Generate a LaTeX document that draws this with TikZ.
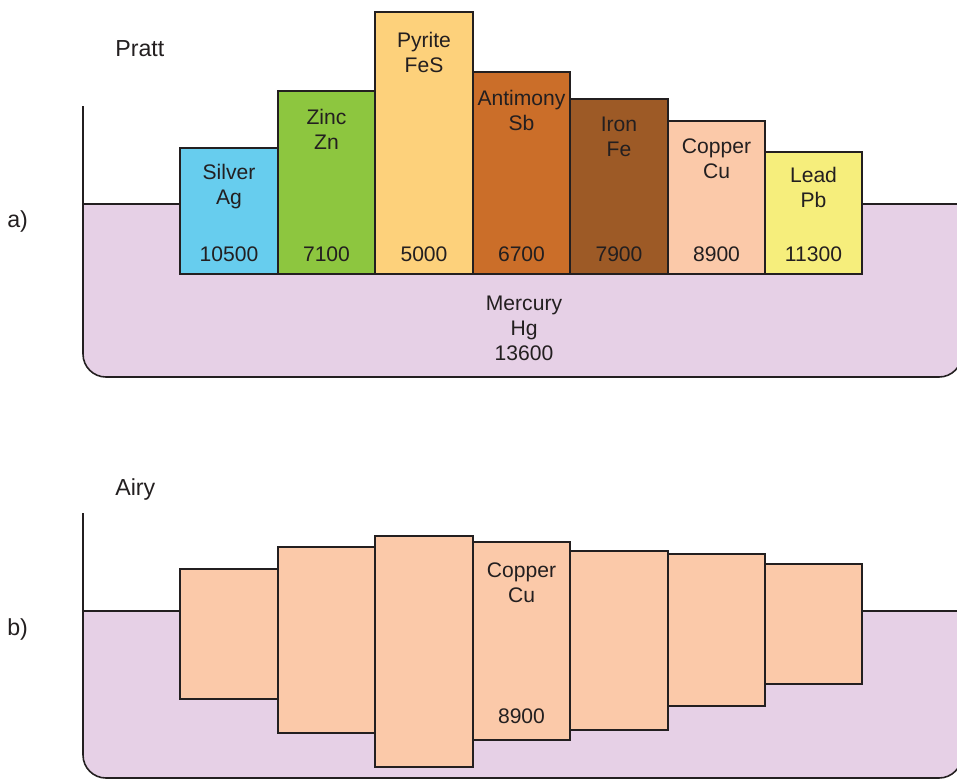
\documentclass[tikz,border=0pt]{standalone}
\usepackage{fontspec}
\setmainfont{Liberation Sans}

\definecolor{ink}{HTML}{231F20}
\definecolor{hg}{HTML}{E6D0E6}
\definecolor{ag}{HTML}{67CDEE}
\definecolor{zn}{HTML}{8DC63F}
\definecolor{fes}{HTML}{FDD17B}
\definecolor{sb}{HTML}{CB6E29}
\definecolor{fe}{HTML}{9D5A26}
\definecolor{cu}{HTML}{FBC9A9}
\definecolor{pb}{HTML}{F6EE7C}

\tikzset{
  wall/.style={draw=ink, line width=.9pt},
  block/.style={draw=ink, line width=.8pt},
  lbl/.style={align=center, inner sep=0pt, text=ink, font=\fontsize{12}{14.2}\selectfont},
  tag/.style={inner sep=0pt, text=ink, font=\fontsize{13.2}{15}\selectfont},
}

\begin{document}
\begin{tikzpicture}[x=0.02cm, y=-0.02cm]
  \useasboundingbox (0, 0) rectangle (957, 779) ;
  %--- a) Pratt : bac de mercure
    \fill[hg] (83, 204) [rounded corners=.46cm] -- (83, 377) -- (962, 377) [sharp corners] -- (962, 204) -- cycle ;
    \draw[wall] (83, 106) [rounded corners=.46cm] -- (83, 377) -- (962, 377) [sharp corners] -- (962, 106) ;
    \draw[wall] (83, 204) -- (180, 204) ;
    \draw[wall] (862, 204) -- (962, 204) ;
  %--- a) blocs, meme base
    \draw[block, fill=ag] (180, 148) rectangle (278, 274) ;
    \draw[block, fill=zn] (278, 91) rectangle (375, 274) ;
    \draw[block, fill=fes] (375, 12) rectangle (473, 274) ;
    \draw[block, fill=sb] (473, 72) rectangle (570, 274) ;
    \draw[block, fill=fe] (570, 99) rectangle (668, 274) ;
    \draw[block, fill=cu] (668, 121) rectangle (765, 274) ;
    \draw[block, fill=pb] (765, 152) rectangle (862, 274) ;
  %--- a) textes
    \node[lbl, anchor=north] (agname) at (229, 164) {Silver\\Ag} ;
    \node[lbl, anchor=north] (znname) at (326.5, 109) {Zinc\\Zn} ;
    \node[lbl, anchor=north] (fesname) at (424, 32) {Pyrite\\FeS} ;
    \node[lbl, anchor=north] (sbname) at (521.5, 90) {Antimony\\Sb} ;
    \node[lbl, anchor=north] (fename) at (619, 117) {Iron\\Fe} ;
    \node[lbl, anchor=north] (cuname) at (716.5, 138) {Copper\\Cu} ;
    \node[lbl, anchor=north] (pbname) at (813.5, 167) {Lead\\Pb} ;
    \node[lbl] (agrho) at (229, 254) {10500} ;
    \node[lbl] (znrho) at (326.5, 254) {7100} ;
    \node[lbl] (fesrho) at (424, 254) {5000} ;
    \node[lbl] (sbrho) at (521.5, 254) {6700} ;
    \node[lbl] (ferho) at (619, 254) {7900} ;
    \node[lbl] (curho) at (716.5, 254) {8900} ;
    \node[lbl] (pbrho) at (813.5, 254) {11300} ;
    \node[lbl, anchor=north] (hgname) at (524, 296) {Mercury\\Hg\\13600} ;
    \node[tag, anchor=base west] (pratt) at (115, 56) {Pratt} ;
    \node[tag, anchor=base west] (parta) at (7, 227) {a)} ;
  %--- b) Airy : bac de mercure
    \fill[hg] (83, 611) [rounded corners=.46cm] -- (83, 778) -- (962, 778) [sharp corners] -- (962, 611) -- cycle ;
    \draw[wall] (83, 513) [rounded corners=.46cm] -- (83, 778) -- (962, 778) [sharp corners] -- (962, 513) ;
    \draw[wall] (83, 611) -- (180, 611) ;
    \draw[wall] (862, 611) -- (962, 611) ;
  %--- b) blocs de cuivre, racines differentes
    \draw[block, fill=cu] (180, 569) rectangle (278, 699) ;
    \draw[block, fill=cu] (278, 547) rectangle (375, 733) ;
    \draw[block, fill=cu] (375, 536) rectangle (473, 767) ;
    \draw[block, fill=cu] (473, 542) rectangle (570, 740) ;
    \draw[block, fill=cu] (570, 551) rectangle (668, 730) ;
    \draw[block, fill=cu] (668, 554) rectangle (765, 706) ;
    \draw[block, fill=cu] (765, 564) rectangle (862, 684) ;
  %--- b) textes
    \node[lbl, anchor=north] (cuname2) at (521.5, 562) {Copper\\Cu} ;
    \node[lbl] (curho2) at (521.5, 716) {8900} ;
    \node[tag, anchor=base west] (airy) at (115, 495) {Airy} ;
    \node[tag, anchor=base west] (partb) at (7, 635) {b)} ;
\end{tikzpicture}
\end{document}
